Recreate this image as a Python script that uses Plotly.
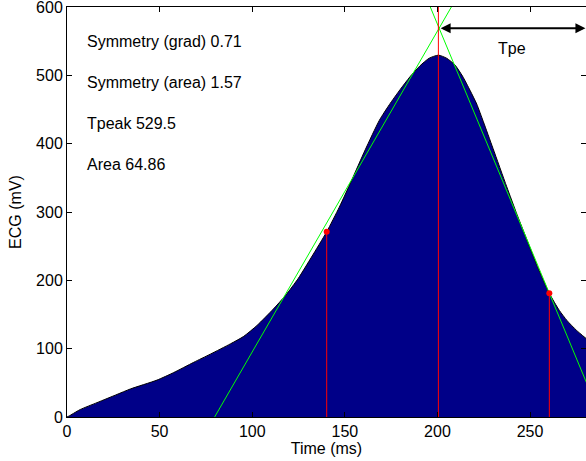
import plotly.graph_objects as go

# ---- data ----
time_ms = [0, 1.5, 2.7, 7.2, 16.2, 27, 34.2, 48.6, 57.6, 68.4, 77.4, 88.2, 95.4, 102.6,
           111.4, 118, 124.9, 132, 140.2, 147, 153.6, 161, 168.6, 174, 179.8, 185.2,
           190.6, 195.5, 200.5, 205, 209.5, 213.5, 217.6, 221.2, 224.8, 230, 237.4,
           243, 248.2, 254, 260.4, 265.8, 270, 275, 280.2]
ecg_mv = [0, 2, 4, 11, 21, 33, 41, 54, 65, 80, 92, 107, 118, 134,
          158, 178, 203, 234, 271, 307, 346, 391, 434, 457, 479, 498,
          514, 525, 529.5, 525, 515, 499, 478, 458, 432, 393, 337,
          296, 260, 220, 181, 156, 141, 127, 115]

t_peak_ms = 200.5
grad_points_x = [140.2, 260.4]
grad_points_y = [271, 181]
tangent_cross_x = 200.9
tangent_cross_y = 569
tangent_slopes = [4.695, -6.52]

info_labels = ["Symmetry (grad) 0.71", "Symmetry (area) 1.57", "Tpeak 529.5", "Area 64.86"]
info_label_y = [550, 490, 430, 370]
info_label_x = 9.5
tpe_label = "Tpe"
tpe_label_pos = (240.3, 540)

x_range = [0, 280.2]
y_range = [0, 600]
x_ticks = [0, 50, 100, 150, 200, 250]
y_ticks = [0, 100, 200, 300, 400, 500, 600]

FONT = "Liberation Sans, Arial, Helvetica, sans-serif"

fig = go.Figure()

# filled ECG T-wave
fig.add_trace(go.Scatter(
    x=time_ms, y=ecg_mv, mode="lines", fill="tozeroy",
    fillcolor="rgb(0,0,136)", line=dict(color="black", width=1, shape="spline", smoothing=0.6),
    hoverinfo="skip", showlegend=False))

# tangent lines
tx, ty = [], []
for s in tangent_slopes:
    for yv in (y_range[0], y_range[1]):
        tx.append(tangent_cross_x + (yv - tangent_cross_y) / s)
        ty.append(yv)
    tx.append(None); ty.append(None)
fig.add_trace(go.Scatter(x=tx, y=ty, mode="lines", line=dict(color="#00ff00", width=1),
                         hoverinfo="skip", showlegend=False))

# red vertical lines
vx = [grad_points_x[0], grad_points_x[0], None, t_peak_ms, t_peak_ms, None, grad_points_x[1], grad_points_x[1]]
vy = [0, grad_points_y[0], None, 0, y_range[1], None, 0, grad_points_y[1]]
fig.add_trace(go.Scatter(x=vx, y=vy, mode="lines", line=dict(color="red", width=1),
                         hoverinfo="skip", showlegend=False))

# red dots
fig.add_trace(go.Scatter(x=grad_points_x, y=grad_points_y, mode="markers",
                         marker=dict(color="red", size=6), hoverinfo="skip", showlegend=False))

# right-side mirror ticks (without line)
fig.add_trace(go.Scatter(x=[None], y=[None], yaxis="y2", showlegend=False, hoverinfo="skip"))

annotations = []
for txt, yv in zip(info_labels, info_label_y):
    annotations.append(dict(x=info_label_x, y=yv, xref="x", yref="y", text=txt, showarrow=False,
                            xanchor="left", yanchor="middle", font=dict(family=FONT, size=16, color="black")))
annotations.append(dict(x=tpe_label_pos[0], y=tpe_label_pos[1], xref="x", yref="y", text=tpe_label,
                        showarrow=False, xanchor="center", yanchor="middle",
                        font=dict(family=FONT, size=16, color="black")))
annotations.append(dict(x=x_range[1] - 0.3, y=tangent_cross_y, xref="x", yref="y",
                        ax=tangent_cross_x, ay=tangent_cross_y, axref="x", ayref="y",
                        text="", showarrow=True, arrowside="end+start", arrowhead=2, startarrowhead=2,
                        arrowwidth=2, arrowsize=1.0, startarrowsize=1.0, arrowcolor="black",
                        standoff=0, startstandoff=0))

fig.update_layout(
    width=586, height=461,
    margin=dict(l=67, r=0, t=7, b=44),
    paper_bgcolor="white", plot_bgcolor="white",
    font=dict(family=FONT, size=16, color="black"),
    showlegend=False,
    annotations=annotations,
    xaxis=dict(range=x_range, tickvals=x_ticks, ticks="inside", ticklen=5, tickcolor="black",
               showline=True, linecolor="black", linewidth=1, mirror="ticks", showgrid=False,
               zeroline=False,
               title=dict(text="Time (ms)", standoff=3, font=dict(family=FONT, size=16, color="black")),
               ticklabeloverflow="allow",
               tickfont=dict(family=FONT, size=16, color="black")),
    yaxis=dict(range=y_range, tickvals=y_ticks, ticks="inside", ticklen=5, tickcolor="black",
               showline=True, linecolor="black", linewidth=1, mirror=False, showgrid=False,
               zeroline=False,
               title=dict(text="ECG (mV)", standoff=10, font=dict(family=FONT, size=16, color="black")),
               ticklabeloverflow="allow",
               tickfont=dict(family=FONT, size=16, color="black")),
    yaxis2=dict(range=y_range, tickvals=y_ticks, overlaying="y", side="right", ticks="inside",
                ticklen=5, tickcolor="black", showline=False, showgrid=False, zeroline=False,
                showticklabels=False),
)

fig.write_html("out.html", config={"displayModeBar": False},
               post_script="document.body.style.margin='0';document.body.style.overflow='hidden';")
